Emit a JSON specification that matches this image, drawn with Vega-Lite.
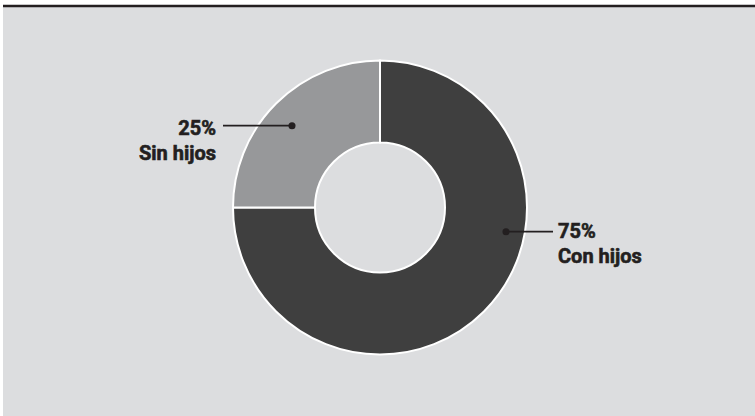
{
  "$schema": "https://vega.github.io/schema/vega-lite/v6.json",
  "width": 752,
  "height": 411,
  "autosize": {"type": "none"},
  "padding": {"left": 3, "top": 5, "right": 0, "bottom": 0},
  "background": "#ffffff",
  "config": {"view": {"fill": "#dcdddf", "stroke": null}},
  "datasets": {
    "slices": [
      {"grupo": "Con hijos", "pct": 75, "orden": 1},
      {"grupo": "Sin hijos", "pct": 25, "orden": 2}
    ],
    "leaders": [
      {"grupo": "Sin hijos", "x1": 223, "x2": 292, "y": 125.7},
      {"grupo": "Con hijos", "x1": 506, "x2": 553, "y": 231.7}
    ],
    "dots": [
      {"grupo": "Sin hijos", "x": 292, "y": 125.7},
      {"grupo": "Con hijos", "x": 506, "y": 231.7}
    ],
    "labelsLeft": [
      {"texto": "25%", "x": 216, "y": 135},
      {"texto": "Sin hijos", "x": 216, "y": 160}
    ],
    "labelsRight": [
      {"texto": "75%", "x": 558, "y": 237.5},
      {"texto": "Con hijos", "x": 558, "y": 263}
    ],
    "frame": [{"y": 5}]
  },
  "layer": [
    {
      "data": {"name": "slices"},
      "mark": {"type": "arc", "outerRadius": 147, "innerRadius": 65, "stroke": "#ffffff", "strokeWidth": 2, "xOffset": 1, "yOffset": -3},
      "encoding": {
        "theta": {"field": "pct", "type": "quantitative", "stack": true},
        "order": {"field": "orden", "type": "quantitative"},
        "color": {"field": "grupo", "type": "nominal", "scale": {"domain": ["Con hijos", "Sin hijos"], "range": ["#3f3f3f", "#97989a"]}, "legend": null}
      }
    },
    {
      "data": {"name": "leaders"},
      "mark": {"type": "rule", "stroke": "#231f20", "strokeWidth": 1.8},
      "encoding": {
        "x": {"field": "x1", "type": "quantitative", "scale": {"domain": [3, 755], "nice": false, "zero": false}, "axis": null},
        "x2": {"field": "x2"},
        "y": {"field": "y", "type": "quantitative", "scale": {"domain": [5, 416], "nice": false, "zero": false, "reverse": true}, "axis": null}
      }
    },
    {
      "data": {"name": "dots"},
      "mark": {"type": "point", "filled": true, "shape": "circle", "size": 50, "color": "#231f20", "opacity": 1},
      "encoding": {
        "x": {"field": "x", "type": "quantitative", "scale": {"domain": [3, 755], "nice": false, "zero": false}, "axis": null},
        "y": {"field": "y", "type": "quantitative", "scale": {"domain": [5, 416], "nice": false, "zero": false, "reverse": true}, "axis": null}
      }
    },
    {
      "data": {"name": "labelsLeft"},
      "mark": {"type": "text", "align": "right", "baseline": "alphabetic", "font": "Roboto", "fontWeight": "bold", "fontSize": 20, "fill": "#231f20", "stroke": "#231f20", "strokeWidth": 0.6},
      "encoding": {
        "x": {"field": "x", "type": "quantitative", "scale": {"domain": [3, 755], "nice": false, "zero": false}, "axis": null},
        "y": {"field": "y", "type": "quantitative", "scale": {"domain": [5, 416], "nice": false, "zero": false, "reverse": true}, "axis": null},
        "text": {"field": "texto", "type": "nominal"}
      }
    },
    {
      "data": {"name": "labelsRight"},
      "mark": {"type": "text", "align": "left", "baseline": "alphabetic", "font": "Roboto", "fontWeight": "bold", "fontSize": 20, "fill": "#231f20", "stroke": "#231f20", "strokeWidth": 0.6},
      "encoding": {
        "x": {"field": "x", "type": "quantitative", "scale": {"domain": [3, 755], "nice": false, "zero": false}, "axis": null},
        "y": {"field": "y", "type": "quantitative", "scale": {"domain": [5, 416], "nice": false, "zero": false, "reverse": true}, "axis": null},
        "text": {"field": "texto", "type": "nominal"}
      }
    },
    {
      "data": {"name": "frame"},
      "mark": {"type": "rule", "stroke": "#231f20", "strokeWidth": 2.6, "yOffset": 1},
      "encoding": {
        "y": {"field": "y", "type": "quantitative", "scale": {"domain": [5, 416], "nice": false, "zero": false, "reverse": true}, "axis": null}
      }
    }
  ]
}
